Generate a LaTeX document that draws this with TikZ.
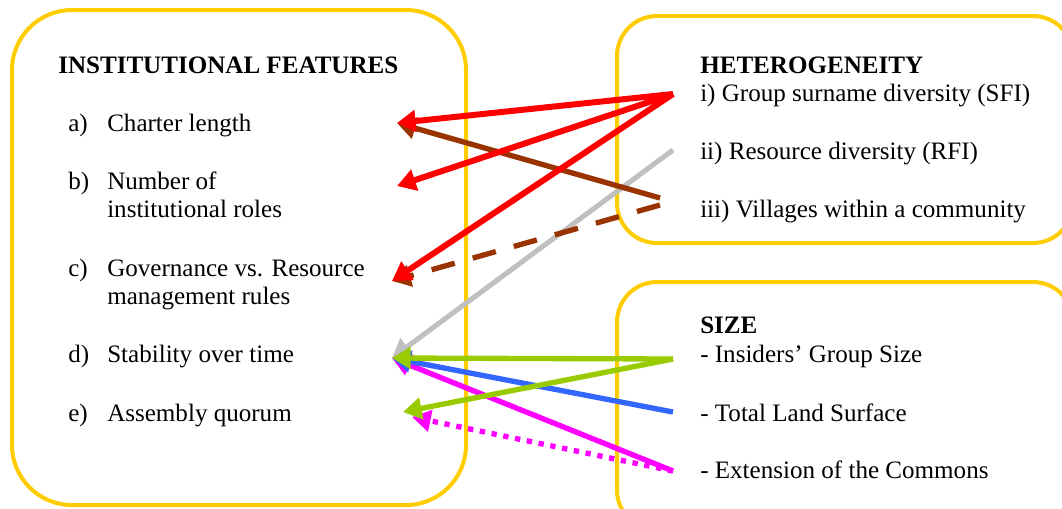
\documentclass[tikz,border=0pt]{standalone}
\usepackage{fontspec}
\setmainfont{Liberation Serif}
\usetikzlibrary{arrows.meta}
\definecolor{boxyellow}{HTML}{FFCC00}
\definecolor{cred}{HTML}{FF0000}
\definecolor{cbrown}{HTML}{993300}
\definecolor{cgray}{HTML}{C0C0C0}
\definecolor{cgreen}{HTML}{99CC00}
\definecolor{cblue}{HTML}{3366FF}
\definecolor{cmag}{HTML}{FF00FF}
\begin{document}
\begin{tikzpicture}[x=0.75pt,y=-0.75pt,
  panel/.style={draw=boxyellow, line width=3pt},
  lbl/.style={anchor=base west, inner sep=0pt, font=\fontsize{18.8}{22}\selectfont},
  ttl/.style={anchor=base west, inner sep=0pt, font=\fontsize{18.8}{22}\selectfont\bfseries},
  link/.style={line width=4pt, -{Triangle[length=14pt,width=16pt]}},
]
\useasboundingbox (0,0) rectangle (1062,508);
\clip (0,0) rectangle (1062,508);
% panels
\draw[panel, rounded corners=45pt] (12,10) rectangle (466,505);
\draw[panel, rounded corners=30pt] (617,16) rectangle (1073,243);
\draw[panel, rounded corners=30pt] (617,282) rectangle (1073,530);
% left texts
\node[ttl] (tinst) at (58,73) {INSTITUTIONAL FEATURES};
\node[lbl] (la) at (68,131) {a)};
\node[lbl] (ta1) at (107,131) {Charter length};
\node[lbl] (lb) at (68,189) {b)};
\node[lbl] (tb1) at (107,189) {Number of};
\node[lbl] (tb2) at (107,217) {institutional roles};
\node[lbl] (lc) at (68,276) {c)};
\node[lbl] (tc1) at (107,276) {Governance vs. Resource};
\node[lbl] (tc2) at (107,304) {management rules};
\node[lbl] (ld) at (68,362) {d)};
\node[lbl] (td1) at (107,362) {Stability over time};
\node[lbl] (le) at (68,421) {e)};
\node[lbl] (te1) at (107,421) {Assembly quorum};
% right texts
\node[ttl] (thet) at (700,73) {HETEROGENEITY};
\node[lbl] (hi) at (700,101) {i) Group surname diversity (SFI)};
\node[lbl] (hii) at (700,159) {ii) Resource diversity (RFI)};
\node[lbl] (hiii) at (700,217) {iii) Villages within a community};
\node[ttl] (tsize) at (700,333) {SIZE};
\node[lbl] (z1) at (700,362) {- Insiders’ Group Size};
\node[lbl] (z2) at (700,421) {- Total Land Surface};
\node[lbl] (z3) at (700,478) {- Extension of the Commons};
% anchor points
\coordinate (si) at (673,94);
\coordinate (sii) at (673,150);
\coordinate (siii) at (660,198);
\coordinate (siiib) at (660,205);
\coordinate (s1) at (673,359);
\coordinate (s2) at (673,412);
\coordinate (s3) at (673,471);
\coordinate (ea) at (397,123);
\coordinate (eb) at (397,186);
\coordinate (ec) at (392,281);
\coordinate (ed) at (392,358);
\coordinate (ee) at (403,412);
\coordinate (ee2) at (412,417);
% connectors
\draw[link, cgray, line width=3.8pt] (sii) -- (ed);
\draw[link, cbrown] (siii) -- (ea);
\draw[link, cbrown, dash pattern=on 18pt off 14pt] (siiib) -- (ec);
\draw[link, cred, line width=4.5pt] (si) -- (ea);
\draw[link, cred, line width=4.5pt] (si) -- (eb);
\draw[link, cred, line width=4.5pt] (si) -- (ec);
\draw[link, cmag, dash pattern=on 4pt off 5pt] (s3) -- (ee2);
\draw[link, cmag] (s3) -- (ed);
\draw[link, cblue] (s2) -- (ed);
\draw[link, cgreen] (s1) -- (ed);
\draw[link, cgreen] (s1) -- (ee);
\end{tikzpicture}
\end{document}
